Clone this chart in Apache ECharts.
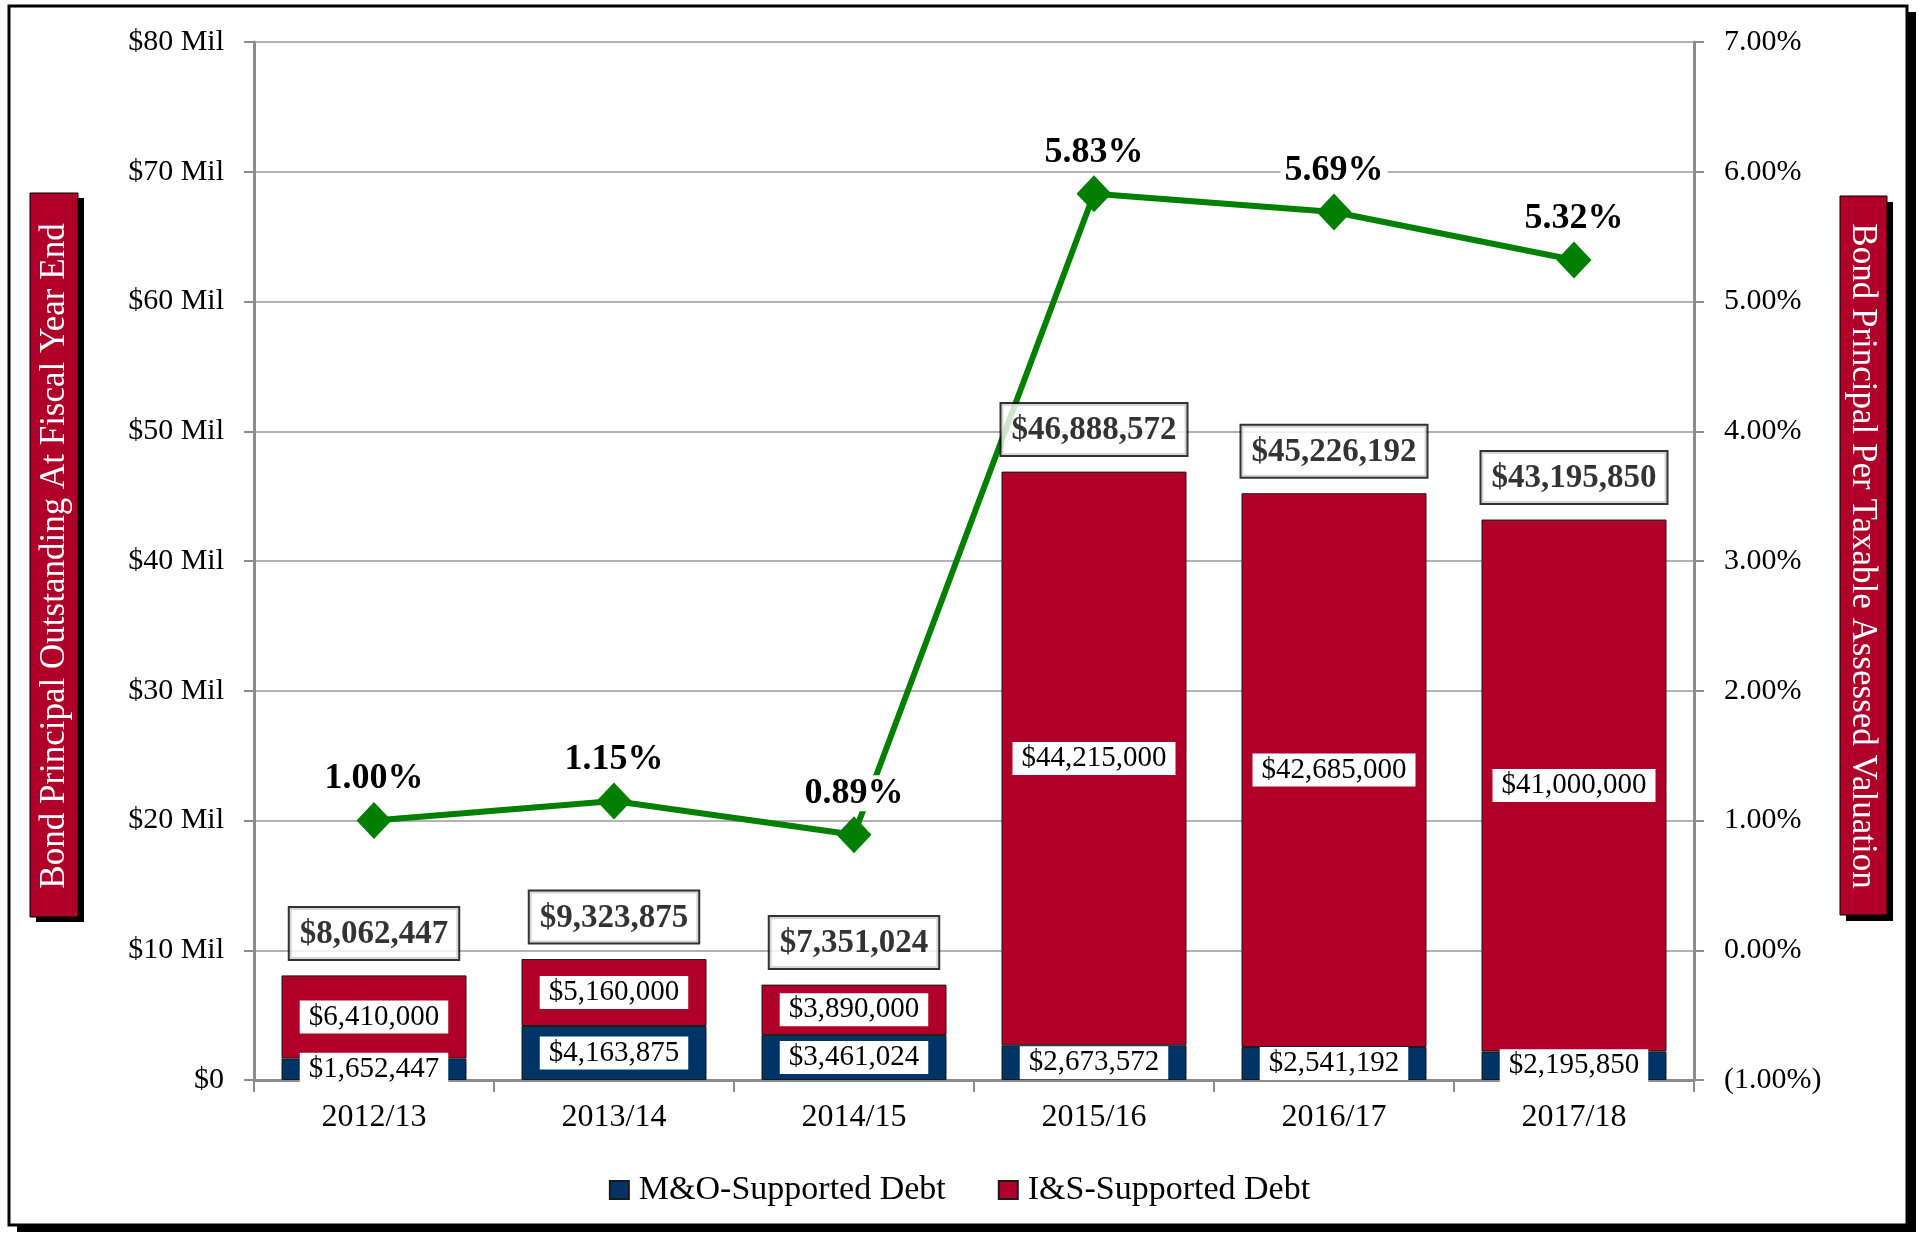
<!DOCTYPE html>
<html>
<head>
<meta charset="utf-8">
<script src="https://cdn.jsdelivr.net/npm/echarts@6/dist/echarts.min.js"></script>
<style>
  html, body { margin: 0; padding: 0; background: #fff; }
  #chart { width: 1919px; height: 1234px; }
</style>
</head>
<body>
<div id="chart"></div>
<script>
// fiscal years
var years = ['2012/13', '2013/14', '2014/15', '2015/16', '2016/17', '2017/18'];
// M&O-supported debt (bottom of stack)
var moDebt = [1652447, 4163875, 3461024, 2673572, 2541192, 2195850];
// I&S-supported debt (top of stack)
var isDebt = [6410000, 5160000, 3890000, 44215000, 42685000, 41000000];
// total bond principal outstanding
var totals = [8062447, 9323875, 7351024, 46888572, 45226192, 43195850];
// bond principal per taxable assessed valuation (%)
var pctValuation = [1.00, 1.15, 0.89, 5.83, 5.69, 5.32];

var FONT = '"Liberation Serif", "DejaVu Serif", serif';
var RED = '#B00029';
var NAVY = '#003366';
var GREEN = '#007F00';

function money(v) {
    return '$' + v.toLocaleString('en-US');
}

var myChart = echarts.init(document.getElementById('chart'));

myChart.setOption({
    backgroundColor: '#fff',
    animation: false,
    textStyle: { fontFamily: FONT },
    grid: { left: 254, right: 225, top: 42, bottom: 154 },
    legend: {
        data: ['M&O-Supported Debt', 'I&S-Supported Debt'],
        left: 'center',
        top: 1168,
        itemWidth: 19,
        itemHeight: 18,
        itemGap: 52,
        icon: 'rect',
        textStyle: { fontFamily: FONT, fontSize: 34, color: '#000', padding: [0, 0, 0, 5] }
    },
    //外框和两侧的轴标题
    graphic: [
        {
            type: 'rect', z: -100, silent: true,
            shape: { x: 17, y: 12, width: 1899, height: 1220 },
            style: { fill: '#000' }
        },
        {
            type: 'rect', z: -99, silent: true,
            shape: { x: 9, y: 6, width: 1898, height: 1219 },
            style: { fill: '#fff', stroke: '#000', lineWidth: 3 }
        },
        {
            type: 'rect', silent: true,
            shape: { x: 36, y: 198, width: 48, height: 724 },
            style: { fill: '#000' }
        },
        {
            type: 'rect', silent: true,
            shape: { x: 30, y: 193, width: 48, height: 724 },
            style: { fill: RED, stroke: '#000', lineWidth: 1 }
        },
        {
            type: 'text', silent: true, x: 55, y: 556, rotation: Math.PI / 2,
            style: { text: 'Bond Principal Outstanding At Fiscal Year End', fill: '#fff',
                     font: '35px "Liberation Serif"', align: 'center', verticalAlign: 'middle' }
        },
        {
            type: 'rect', silent: true,
            shape: { x: 1846, y: 202, width: 47, height: 719 },
            style: { fill: '#000' }
        },
        {
            type: 'rect', silent: true,
            shape: { x: 1840, y: 196, width: 47, height: 719 },
            style: { fill: RED, stroke: '#000', lineWidth: 1 }
        },
        {
            type: 'text', silent: true, x: 1862, y: 556, rotation: -Math.PI / 2,
            style: { text: 'Bond Principal Per Taxable Assessed Valuation', fill: '#fff',
                     font: '35px "Liberation Serif"', align: 'center', verticalAlign: 'middle' }
        }
    ],
    xAxis: {
        type: 'category',
        data: years,
        axisLine: { lineStyle: { color: '#8c8c8c', width: 3 } },
        axisTick: { show: true, length: 12, lineStyle: { color: '#8c8c8c', width: 2 } },
        axisLabel: { fontFamily: FONT, fontSize: 32, color: '#000', margin: 22 }
    },
    yAxis: [
        {
            type: 'value',
            min: 0, max: 80000000, interval: 10000000,
            axisLine: { show: true, lineStyle: { color: '#8c8c8c', width: 3 } },
            axisTick: { show: true, length: 10, lineStyle: { color: '#8c8c8c', width: 2 } },
            splitLine: { lineStyle: { color: '#b3b3b3', width: 2 } },
            axisLabel: {
                fontFamily: FONT, fontSize: 30, color: '#000', margin: 30,
                formatter: function (v) {
                    return v === 0 ? '$0' : '$' + (v / 1000000) + ' Mil';
                }
            }
        },
        {
            type: 'value',
            min: -1, max: 7, interval: 1,
            axisLine: { show: true, lineStyle: { color: '#8c8c8c', width: 3 } },
            axisTick: { show: true, length: 10, lineStyle: { color: '#8c8c8c', width: 2 } },
            splitLine: { show: false },
            axisLabel: {
                fontFamily: FONT, fontSize: 30, color: '#000', margin: 30,
                formatter: function (v) {
                    return v < 0 ? '(' + Math.abs(v).toFixed(2) + '%)' : v.toFixed(2) + '%';
                }
            }
        }
    ],
    series: [
        {
            name: 'M&O-Supported Debt',
            type: 'bar',
            stack: 'debt',
            barWidth: 185,
            data: moDebt,
            itemStyle: { color: NAVY, borderColor: '#1a1a1a', borderWidth: 1 },
            label: {
                show: true, position: 'inside',
                fontFamily: FONT, fontSize: 29, color: '#000',
                backgroundColor: '#fff', padding: [3, 9, 1, 9],
                formatter: function (p) { return money(p.value); }
            }
        },
        {
            name: 'I&S-Supported Debt',
            type: 'bar',
            stack: 'debt',
            barWidth: 185,
            data: isDebt,
            itemStyle: { color: RED, borderColor: '#1a1a1a', borderWidth: 1 },
            label: {
                show: true, position: 'inside',
                fontFamily: FONT, fontSize: 29, color: '#000',
                backgroundColor: '#fff', padding: [3, 9, 1, 9],
                formatter: function (p) { return money(p.value); }
            }
        },
        {
            //柱子顶部的合计
            name: 'Total',
            type: 'scatter',
            data: totals,
            symbolSize: 1,
            itemStyle: { color: 'rgba(0,0,0,0)' },
            z: 5,
            label: {
                show: true, position: 'top', distance: 16,
                fontFamily: FONT, fontSize: 33, fontWeight: 'bold', color: '#000',
                backgroundColor: '#fff', borderColor: '#000', borderWidth: 2,
                padding: [10, 10, 8, 10],
                formatter: function (p) { return money(p.value); }
            }
        },
        {
            name: 'Bond Principal Per Taxable Assessed Valuation',
            type: 'line',
            yAxisIndex: 1,
            data: pctValuation,
            symbol: 'diamond',
            symbolSize: [35, 37],
            lineStyle: { color: GREEN, width: 6 },
            itemStyle: { color: GREEN },
            z: 4,
            label: {
                show: true, position: 'top', distance: 5,
                fontFamily: FONT, fontSize: 36, fontWeight: 'bold', color: '#000',
                backgroundColor: '#fff', padding: [0, 4],
                formatter: function (p) { return p.value.toFixed(2) + '%'; }
            }
        }
    ]
});
</script>
</body>
</html>
